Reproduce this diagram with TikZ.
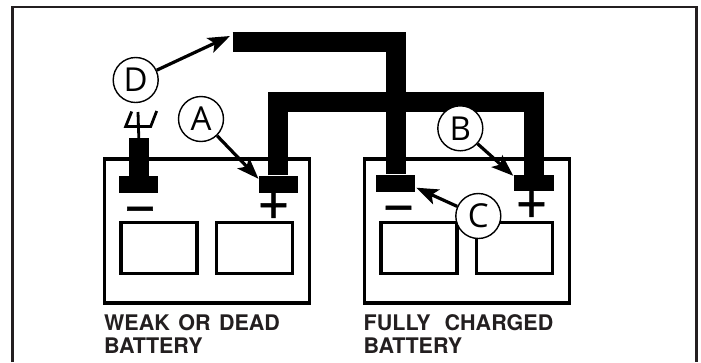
\documentclass[tikz,border=0pt]{standalone}
\usepackage{fontspec}
\setmainfont{Liberation Sans}
\setsansfont{TeX Gyre Heros}
\newfontfamily\calloutfont{Open Sans}
\newfontfamily\signfont[FakeBold=1]{Liberation Sans}
\usepackage{xcolor}
\usetikzlibrary{arrows.meta, positioning, calc}
\definecolor{inkblack}{HTML}{231F20}

\begin{document}
\begin{tikzpicture}[
    x=1pt, y=-1pt,
    battery/.style={draw=black, line width=3.8pt, inner sep=0pt, minimum width=205pt, minimum height=144pt},
    cell/.style={draw=black, line width=3.8pt, inner sep=0pt, minimum width=76pt, minimum height=51pt},
    terminal/.style={fill=black, inner sep=0pt, minimum width=39pt, minimum height=17pt},
    sign/.style={font=\fontsize{52}{52}\selectfont\signfont, inner sep=0pt, anchor=base},
    callout/.style={draw=black, fill=white, circle, line width=1.4pt, inner sep=0pt, minimum size=45pt, font=\fontsize{33}{33}\selectfont\calloutfont},
    caption/.style={font=\fontsize{21.5}{23}\selectfont\sffamily\bfseries, text=inkblack, align=left, inner sep=0pt, anchor=north west},
    cable/.style={line width=20pt, black},
    arr/.style={-{Stealth[length=22pt, width=16pt, inset=5pt]}, line width=3.2pt, black},
    fork/.style={line width=2.8pt, black},
]
\useasboundingbox (0,0) rectangle (701,362);

% Frame
\draw[line width=2.6pt, inkblack] (12.3,362) |- (696.5,7) -- (696.5,362);

% Weak battery
\node[battery] (weak) at (207,231) {};
\node[cell] (weakA) at (159,248) {};
\node[cell] (weakB) at (254.5,248) {};
\node[terminal] (lminus) at (138.8,184.5) {};
\node[terminal] (lplus) at (278.2,184) {};
\node[sign] (lminussign) at (140,226) {−};
\node[sign] (lplussign) at (273.5,222.5) {+};
\node[caption] (weaklabel) at (104,314.5) {WEAK\hspace{2.5pt} OR\hspace{2.5pt} DEAD\\BATTERY};

% Charged battery
\node[battery] (full) at (467,231) {};
\node[cell] (fullA) at (419,248) {};
\node[cell] (fullB) at (514.5,248) {};
\node[terminal] (rminus) at (395.5,183) {};
\node[terminal, minimum width=40pt, minimum height=16pt] (rplus) at (534,183) {};
\node[sign] (rminussign) at (398.5,225) {−};
\node[sign] (rplussign) at (531.5,221.5) {+};
\node[caption] (fulllabel) at (363.5,314.5) {FULLY\hspace{8pt} CHARGED\\BATTERY};

% Cables
\coordinate (clamp) at (232.7,41.5);
\coordinate (bridge) at (400,102);
\coordinate (lpost) at (138.8,138);
\draw[cable] (clamp) -| (rminus.north);
\draw[cable] (lplus.north) |- (bridge) -| (rplus.north);
\draw[cable] (lminus.north) -- (lpost);

% Disconnected clamp
\coordinate (tineL) at (131.7,111.5);
\coordinate (tineM) at (138,112);
\coordinate (tineR) at (156.7,111);
\draw[fork] (tineM) -- (lpost);
\draw[fork] (tineL) -- (125.7,126.5) -- (150.7,126.5) -- (tineR);

% Callouts
\node[callout] (D) at (135.7,80) {D};
\node[callout] (A) at (201,119) {A};
\node[callout] (B) at (460.3,128.3) {B};
\node[callout] (C) at (478.3,216) {C};

\draw[arr] (D) -- ($(clamp)+(-2.7,-5.5)$);
\draw[arr] (A) -- ($(lplus.north west)+(0,3.5)$);
\draw[arr] (B) -- ($(rplus.north west)+(-0.5,1)$);
\draw[arr] (C) -- ($(rminus.south east)+(1,-4)$);

\end{tikzpicture}
\end{document}
